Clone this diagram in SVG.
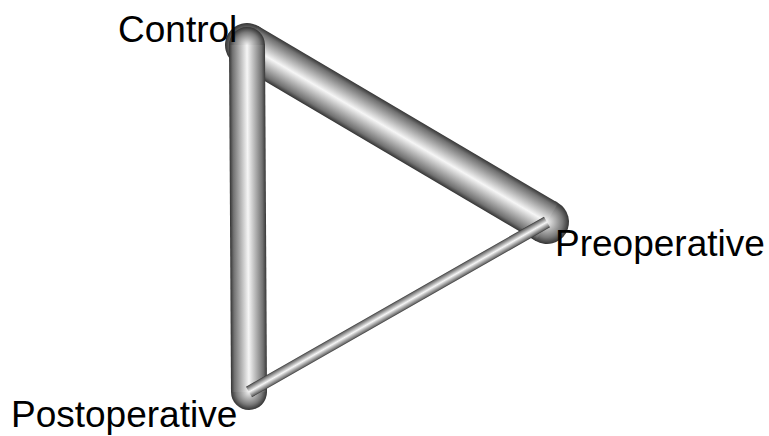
<svg xmlns="http://www.w3.org/2000/svg" width="769" height="436" viewBox="0 0 769 436">
<defs>
<linearGradient id="tube" x1="0" y1="0" x2="0" y2="1">
<stop offset="0" stop-color="#383838"/>
<stop offset="0.1" stop-color="#727272"/>
<stop offset="0.5" stop-color="#f6f6f6"/>
<stop offset="0.9" stop-color="#727272"/>
<stop offset="1" stop-color="#343434"/>
</linearGradient>
<radialGradient id="cap" cx="0.5" cy="0.5" r="0.5">
<stop offset="0" stop-color="#f0f0f0"/>
<stop offset="0.7" stop-color="#7a7a7a"/>
<stop offset="1" stop-color="#343434"/>
</radialGradient>
</defs>
<style>
.lbl{font-family:"Liberation Sans",Arial,sans-serif;font-size:37px;fill:#000}
.band{fill:url(#tube)}
.end{fill:url(#cap)}
</style>
<g id="connectors">
<g id="e-control-preop" transform="translate(247,45) rotate(30.54)">
<circle class="end" cx="0" cy="0" r="22"/>
<circle class="end" cx="348.3" cy="0" r="22"/>
<rect class="band" x="0" y="-22" width="348.3" height="44"/>
</g>
<g id="e-control-postop" transform="translate(247,45) rotate(89.67)">
<circle class="end" cx="0" cy="0" r="18"/>
<circle class="end" cx="347" cy="0" r="18"/>
<rect class="band" x="0" y="-18" width="347" height="36"/>
</g>
<g id="e-preop-postop" transform="translate(547,222) rotate(150.3)">
<rect class="band" x="0" y="-6" width="343.1" height="12"/>
</g>
</g>
<g id="node-control"><text class="lbl" x="118" y="42">Control</text></g>
<g id="node-preoperative"><text class="lbl" x="555" y="256">Preoperative</text></g>
<g id="node-postoperative"><text class="lbl" x="11" y="427">Postoperative</text></g>
</svg>
